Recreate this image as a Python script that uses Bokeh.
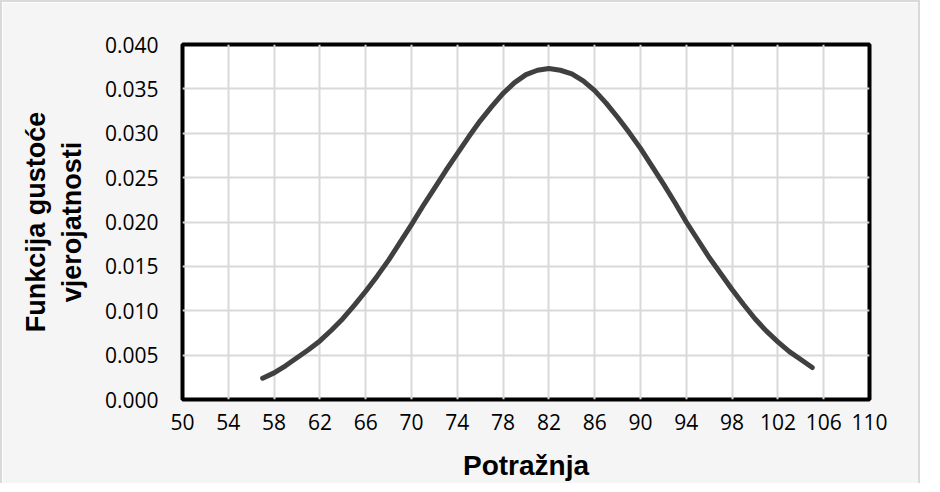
from bokeh.plotting import figure
from bokeh.models import FixedTicker, ColumnDataSource, CustomJSTickFormatter
from bokeh.embed import file_html
from bokeh.resources import INLINE

# Data
demand = [57, 58, 59, 60, 61, 62, 63, 64, 65, 66, 67, 68, 69, 70, 71, 72, 73,
          74, 75, 76, 77, 78, 79, 80, 81, 82, 83, 84, 85, 86, 87, 88, 89, 90,
          91, 92, 93, 94, 95, 96, 97, 98, 99, 100, 101, 102, 103, 104, 105]
density = [0.0024, 0.0030, 0.0038, 0.0047, 0.0056, 0.0066, 0.0078, 0.0091,
           0.0106, 0.0122, 0.0139, 0.0157, 0.0177, 0.0197, 0.0218, 0.0238,
           0.0258, 0.0277, 0.0296, 0.0314, 0.0330, 0.0345, 0.0357, 0.0366,
           0.0371, 0.0373, 0.0371, 0.0367, 0.0359, 0.0348, 0.0334, 0.0318,
           0.0301, 0.0283, 0.0263, 0.0243, 0.0222, 0.0200, 0.0180, 0.0160,
           0.0142, 0.0124, 0.0107, 0.0091, 0.0077, 0.0065, 0.0054, 0.0045,
           0.0036]
x_ticks = list(range(50, 111, 4))
y_ticks = [0.000, 0.005, 0.010, 0.015, 0.020, 0.025, 0.030, 0.035, 0.040]

src = ColumnDataSource(dict(x=demand, y=density))

p = figure(width=920, height=483, output_backend="svg", toolbar_location=None,
           x_range=(50, 110), y_range=(0, 0.040),
           min_border_left=180, min_border_right=53,
           min_border_top=42, min_border_bottom=86)
p.styles = {"border-top": "2px solid #d9d9d9", "border-left": "2px solid #d9d9d9",
            "border-right": "2px solid #d9d9d9"}
p.border_fill_color = "#f5f5f5"
p.background_fill_color = "white"
p.outline_line_color = "black"
p.outline_line_width = 4

p.line("x", "y", source=src, line_color="#404040", line_width=5,
       line_cap="round", line_join="round")

p.xaxis.ticker = FixedTicker(ticks=x_ticks)
p.yaxis.ticker = FixedTicker(ticks=y_ticks)
p.yaxis.formatter = CustomJSTickFormatter(code="return tick.toFixed(3);")

for ax in (p.xaxis, p.yaxis):
    ax.axis_line_color = None
    ax.major_tick_line_color = None
    ax.minor_tick_line_color = None
    ax.major_label_text_font = "Open Sans"
    ax.major_label_text_font_size = "21px"
    ax.major_label_text_color = "black"
    ax.axis_label_text_font = "Liberation Sans"
    ax.axis_label_text_font_style = "bold"
    ax.axis_label_text_color = "black"

p.xaxis.axis_label_text_font_size = "28px"
p.yaxis.axis_label_text_font_size = "27px"
p.xaxis.major_label_standoff = 8
p.yaxis.major_label_standoff = 18
p.xaxis.axis_label = "Potražnja"
p.xaxis.axis_label_standoff = 17
p.yaxis.axis_label = "Funkcija gustoće\nvjerojatnosti"
p.yaxis.axis_label_standoff = 15

p.xgrid.ticker = FixedTicker(ticks=x_ticks)
p.ygrid.ticker = FixedTicker(ticks=y_ticks)
p.grid.grid_line_color = "#d9d9d9"
p.grid.grid_line_width = 2

open("out.html", "w").write(file_html(p, INLINE))
